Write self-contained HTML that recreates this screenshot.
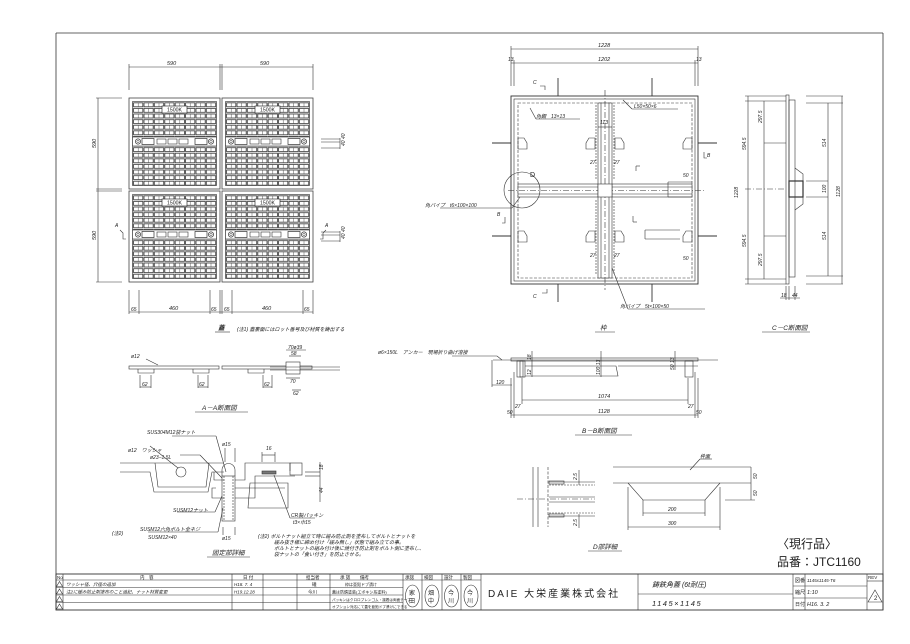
<!DOCTYPE html>
<html><head><meta charset="utf-8"><style>
html,body{margin:0;padding:0;background:#fff;}
svg{display:block;}
text{font-family:"Liberation Sans","Noto Sans CJK JP",sans-serif;fill:#222;}
.d{font-size:5.5px;font-style:italic;}
.s{font-size:5px;font-style:italic;}
.c{font-size:6.5px;font-style:italic;}
</style></head><body>
<svg width="910" height="644" viewBox="0 0 910 644" xmlns="http://www.w3.org/2000/svg">
<defs>
<pattern id="gr" x="4" y="4" width="10.4" height="5.6" patternUnits="userSpaceOnUse">
<rect x="0.6" y="0.8" width="9.2" height="4" fill="#fff" stroke="#333" stroke-width="0.8"/>
<line x1="5.2" y1="0.8" x2="5.2" y2="4.8" stroke="#555" stroke-width="0.5"/>
</pattern>
<g id="panel">
<rect x="0" y="0" width="91" height="91" fill="#fff" stroke="#444" stroke-width="0.8"/>
<rect x="3.5" y="3.5" width="84" height="84" fill="url(#gr)" stroke="#333" stroke-width="0.6"/>
<rect x="3.5" y="39" width="84" height="9" fill="#fff" stroke="#333" stroke-width="0.6"/>
<circle cx="9" cy="43.5" r="2.6" fill="#fff" stroke="#333" stroke-width="0.7"/>
<circle cx="9" cy="43.5" r="1.2" fill="none" stroke="#333" stroke-width="0.5"/>
<circle cx="82" cy="43.5" r="2.6" fill="#fff" stroke="#333" stroke-width="0.7"/>
<circle cx="82" cy="43.5" r="1.2" fill="none" stroke="#333" stroke-width="0.5"/>
<rect x="13" y="40.5" width="12" height="6" fill="#fff" stroke="#333" stroke-width="0.7"/>
<rect x="66" y="40.5" width="12" height="6" fill="#fff" stroke="#333" stroke-width="0.7"/>
<rect x="28" y="41" width="9" height="5" fill="#fff" stroke="#333" stroke-width="0.6"/>
<rect x="39" y="41" width="9" height="5" fill="#fff" stroke="#333" stroke-width="0.6"/>
<rect x="50" y="41" width="9" height="5" fill="#fff" stroke="#333" stroke-width="0.6"/>
<rect x="33" y="8" width="25" height="7" fill="#fff" stroke="#333" stroke-width="0.7"/>
<text x="45.5" y="13.6" font-size="5.2" text-anchor="middle">1500K</text>
</g>
</defs>

<!-- border -->
<g fill="none" stroke="#333" stroke-width="0.8">
<line x1="56" y1="33" x2="883" y2="33"/>
<line x1="56" y1="33" x2="56" y2="610"/>
<line x1="883" y1="33" x2="883" y2="610"/>
</g>

<!-- ===== grating plan ===== -->
<use href="#panel" x="129" y="98"/>
<use href="#panel" x="222" y="98"/>
<use href="#panel" x="129" y="191"/>
<use href="#panel" x="222" y="191"/>
<g stroke="#333" stroke-width="0.6" fill="none">
<line x1="129" y1="67" x2="313" y2="67"/>
<line x1="129" y1="64" x2="129" y2="90"/><line x1="220" y1="64" x2="220" y2="90"/><line x1="222" y1="64" x2="222" y2="90"/><line x1="313" y1="64" x2="313" y2="90"/>
<line x1="98" y1="98" x2="98" y2="282"/>
<line x1="96" y1="98" x2="122" y2="98"/><line x1="96" y1="189" x2="122" y2="189"/><line x1="96" y1="191" x2="122" y2="191"/><line x1="96" y1="282" x2="122" y2="282"/>
<line x1="129" y1="312" x2="313" y2="312"/>
<line x1="129" y1="290" x2="129" y2="314"/><line x1="139" y1="290" x2="139" y2="314"/><line x1="210" y1="290" x2="210" y2="314"/><line x1="220" y1="290" x2="220" y2="314"/>
<line x1="222" y1="290" x2="222" y2="314"/><line x1="232" y1="290" x2="232" y2="314"/><line x1="303" y1="290" x2="303" y2="314"/><line x1="313" y1="290" x2="313" y2="314"/>
<line x1="321" y1="139" x2="340" y2="139"/><line x1="321" y1="142" x2="340" y2="142"/><line x1="321" y1="148" x2="340" y2="148"/>
<line x1="340" y1="138" x2="340" y2="149"/>
<line x1="321" y1="232" x2="340" y2="232"/><line x1="321" y1="235" x2="340" y2="235"/><line x1="321" y1="241" x2="340" y2="241"/>
<line x1="340" y1="231" x2="340" y2="242"/>
<path d="M120 230 l3 3 v6 h3"/><path d="M326 230 l-3 3 v6 h-3"/>
</g>
<text class="d" x="167" y="65">590</text><text class="d" x="260" y="65">590</text>
<text class="d" x="96" y="148" transform="rotate(-90 96 148)">590</text>
<text class="d" x="96" y="240" transform="rotate(-90 96 240)">590</text>
<text class="s" x="131" y="311">65</text><text class="d" x="169" y="310">460</text><text class="s" x="211" y="311">65</text>
<text class="s" x="224" y="311">65</text><text class="d" x="262" y="310">460</text><text class="s" x="304" y="311">65</text>
<text class="s" x="115" y="227">A</text><text class="s" x="325" y="227">A</text>
<text class="s" x="345" y="146" transform="rotate(-90 345 146)">40 40</text>
<text class="s" x="345" y="239" transform="rotate(-90 345 239)">40 40</text>
<text class="c" x="218" y="330" font-weight="bold">蓋</text>
<line x1="215" y1="332" x2="230" y2="332" stroke="#333" stroke-width="0.6"/>
<text class="s" x="237" y="331">(注1) 蓋裏面にはロット番号及び材質を鋳出する</text>

<!-- ===== frame plan ===== -->
<g stroke="#333" stroke-width="0.6" fill="none">
<line x1="511" y1="49" x2="698" y2="49"/><line x1="511" y1="63" x2="698" y2="63"/>
<line x1="511" y1="46" x2="511" y2="86"/><line x1="514" y1="60" x2="514" y2="86"/><line x1="695" y1="60" x2="695" y2="86"/><line x1="698" y1="46" x2="698" y2="86"/>
<rect x="511" y="96" width="187" height="188" stroke-width="0.9"/>
<rect x="514" y="99" width="181" height="182"/>
<rect x="518" y="103" width="174" height="175" stroke-dasharray="3 1.5"/>
<line x1="558" y1="78" x2="558" y2="96" stroke-width="0.9"/><line x1="652" y1="78" x2="652" y2="96" stroke-width="0.9"/>
<line x1="558" y1="284" x2="558" y2="302" stroke-width="0.9"/><line x1="652" y1="284" x2="652" y2="302" stroke-width="0.9"/>
<line x1="492" y1="143" x2="511" y2="143" stroke-width="0.9"/><line x1="492" y1="236" x2="511" y2="236" stroke-width="0.9"/>
<line x1="698" y1="143" x2="717" y2="143" stroke-width="0.9"/><line x1="698" y1="236" x2="717" y2="236" stroke-width="0.9"/>
<rect x="518" y="184" width="174" height="13" fill="#fff"/>
<line x1="518" y1="187" x2="692" y2="187"/><line x1="518" y1="194" x2="692" y2="194"/>
<line x1="508" y1="190.5" x2="705" y2="190.5" stroke-dasharray="6 2 1 2"/>
<rect x="598" y="103" width="14" height="175" fill="#fff"/>
<line x1="601" y1="103" x2="601" y2="278"/><line x1="609" y1="103" x2="609" y2="278"/>
<line x1="605" y1="90" x2="605" y2="290" stroke-dasharray="6 2 1 2"/>
<rect x="598" y="184" width="14" height="13" fill="#fff"/>
<line x1="596" y1="105" x2="596" y2="180" stroke-dasharray="2 1"/><line x1="614" y1="105" x2="614" y2="180" stroke-dasharray="2 1"/>
<line x1="596" y1="200" x2="596" y2="275" stroke-dasharray="2 1"/><line x1="614" y1="200" x2="614" y2="275" stroke-dasharray="2 1"/>
<circle cx="522" cy="190" r="18"/>
<path d="M518 138 h6 l3 5 v6 h-9 z"/><path d="M595 138 h-6 l-3 5 v6 h9 z"/><path d="M615 138 h6 l3 5 v6 h-9 z"/><path d="M692 138 h-6 l-3 5 v6 h9 z"/>
<path d="M518 231 h6 l3 5 v6 h-9 z"/><path d="M595 231 h-6 l-3 5 v6 h9 z"/><path d="M615 231 h6 l3 5 v6 h-9 z"/><path d="M692 231 h-6 l-3 5 v6 h9 z"/>
<line x1="530" y1="108" x2="536" y2="119"/><line x1="536" y1="119" x2="580" y2="119"/>
<line x1="623" y1="100" x2="632" y2="109"/><line x1="632" y1="109" x2="678" y2="109"/>
<line x1="612" y1="268" x2="628" y2="309"/><line x1="628" y1="309" x2="705" y2="309"/>
<line x1="440" y1="208" x2="512" y2="208"/><line x1="512" y1="208" x2="520" y2="197"/>
<line x1="598" y1="127" x2="612" y2="127"/>
<line x1="668" y1="182" x2="692" y2="182"/><line x1="668" y1="197" x2="692" y2="197"/><line x1="668" y1="182" x2="668" y2="197"/>
<line x1="645" y1="230" x2="680" y2="230"/><line x1="645" y1="239" x2="680" y2="239"/><line x1="645" y1="230" x2="645" y2="239"/>
<path d="M540 86 l5 0 l0 4"/><path d="M542 293 l5 0 l0 -4"/><path d="M707 158 l-3 0 v-6"/><path d="M502 223 l3 0 v-6"/>
<line x1="636" y1="166" x2="636" y2="171"/><line x1="636" y1="166" x2="640" y2="166"/>
<line x1="633" y1="222" x2="633" y2="216"/><line x1="633" y1="222" x2="637" y2="222"/>
</g>
<text class="d" x="598" y="47">1228</text><text class="d" x="598" y="61">1202</text>
<text class="s" x="508" y="61">13</text><text class="s" x="696" y="61">13</text>
<text class="s" x="533" y="84">C</text><text class="s" x="533" y="298">C</text>
<text class="s" x="707" y="157">B</text><text class="s" x="497" y="216">B</text>
<text x="530" y="177" font-size="7">D</text>
<text class="s" x="536" y="118">角鋼　13×13</text>
<text class="s" x="634" y="108">L50×50×6</text>
<text class="s" x="620" y="308">角パイプ　5t×100×50</text>
<text class="s" x="425" y="207">角パイプ　t6×100×100</text>
<text class="s" x="600" y="124">113</text>
<text class="s" x="590" y="164">27</text><text class="s" x="614" y="164">27</text>
<text class="s" x="590" y="257">27</text><text class="s" x="614" y="257">27</text>
<text class="s" x="683" y="177">50</text><text class="s" x="683" y="260">50</text>
<text class="c" x="600" y="330">枠</text>
<line x1="595" y1="332" x2="615" y2="332" stroke="#333" stroke-width="0.6"/>

<!-- ===== C-C section ===== -->
<g stroke="#333" stroke-width="0.6" fill="none">
<line x1="748" y1="96" x2="748" y2="284"/><line x1="764" y1="101" x2="764" y2="279"/>
<line x1="745" y1="96" x2="786" y2="96"/><line x1="745" y1="101" x2="786" y2="101"/>
<line x1="764" y1="143" x2="786" y2="143"/><line x1="745" y1="189" x2="786" y2="189" stroke-dasharray="6 2 1 2"/>
<line x1="764" y1="236" x2="786" y2="236"/><line x1="745" y1="279" x2="786" y2="279"/><line x1="745" y1="284" x2="786" y2="284"/>
<rect x="786" y="95" width="3" height="189"/>
<rect x="789" y="100" width="6" height="177"/>
<path d="M795 168 l8 6 v30 l-8 6"/>
<rect x="789" y="181" width="14" height="16" stroke-width="1.2"/>
<line x1="806" y1="96" x2="843" y2="96"/><line x1="806" y1="103" x2="843" y2="103"/>
<line x1="806" y1="276" x2="843" y2="276"/><line x1="806" y1="284" x2="843" y2="284"/>
<line x1="806" y1="181" x2="828" y2="181"/><line x1="806" y1="197" x2="828" y2="197"/>
<line x1="828" y1="103" x2="828" y2="276"/><line x1="842" y1="96" x2="842" y2="284"/>
<line x1="786" y1="286" x2="786" y2="300"/><line x1="789" y1="286" x2="789" y2="300"/><line x1="795" y1="286" x2="795" y2="300"/>
<line x1="780" y1="298" x2="800" y2="298"/>
</g>
<g class="s">
<text x="746" y="150" transform="rotate(-90 746 150)">594.5</text>
<text x="746" y="247" transform="rotate(-90 746 247)">594.5</text>
<text x="762" y="123" transform="rotate(-90 762 123)">297.5</text>
<text x="762" y="266" transform="rotate(-90 762 266)">297.5</text>
<text x="826" y="147" transform="rotate(-90 826 147)">514</text>
<text x="826" y="240" transform="rotate(-90 826 240)">514</text>
<text x="826" y="193" transform="rotate(-90 826 193)">100</text>
<text x="840" y="197" transform="rotate(-90 840 197)">1128</text>
<text x="738" y="198" transform="rotate(-90 738 198)">1228</text>
<text x="781" y="297">18</text><text x="792" y="297">44</text>
</g>
<text class="c" x="772" y="330">C－C断面図</text>
<line x1="762" y1="332" x2="810" y2="332" stroke="#333" stroke-width="0.6"/>

<!-- ===== A-A section ===== -->
<g stroke="#333" stroke-width="0.6" fill="none">
<rect x="129" y="366" width="90" height="3"/><rect x="222" y="366" width="90" height="3"/>
<path d="M138 369 v4 h16 v-4"/><path d="M193 369 v4 h16 v-4"/><path d="M248 369 v4 h16 v-4"/>
<rect x="286" y="362" width="14" height="12" fill="#fff"/>
<line x1="270" y1="367" x2="340" y2="367"/><line x1="270" y1="370" x2="340" y2="370"/>
<line x1="140" y1="375" x2="140" y2="388"/><line x1="151" y1="375" x2="151" y2="388"/><line x1="140" y1="387" x2="151" y2="387"/>
<line x1="198" y1="375" x2="198" y2="388"/><line x1="208" y1="375" x2="208" y2="388"/><line x1="198" y1="387" x2="208" y2="387"/>
<line x1="263" y1="375" x2="263" y2="388"/><line x1="272" y1="375" x2="272" y2="388"/><line x1="263" y1="387" x2="272" y2="387"/>
<line x1="286" y1="350" x2="306" y2="350"/><line x1="289" y1="356" x2="301" y2="356"/>
<line x1="286" y1="378" x2="300" y2="378"/><line x1="292" y1="390" x2="301" y2="390"/>
<line x1="146" y1="359" x2="158" y2="365"/>
</g>
<text class="s" x="131" y="358">ø12</text>
<text class="s" x="142" y="386">62</text><text class="s" x="199" y="386">62</text><text class="s" x="264" y="386">62</text>
<text class="s" x="288" y="349">70ø39</text><text class="s" x="291" y="355">58</text><text class="s" x="290" y="383">70</text><text class="s" x="293" y="395">62</text>
<text class="c" x="202" y="410">A－A断面図</text>
<line x1="195" y1="412" x2="248" y2="412" stroke="#333" stroke-width="0.6"/>

<!-- ===== fixing detail ===== -->
<g stroke="#333" stroke-width="0.6" fill="none">
<path d="M120 463 h100 l4 0"/><path d="M120 472 h30 l4 20 h54 l4 -20 h12"/>
<path d="M155 463 l3 24 h48 l3 -24"/>
<circle cx="181" cy="472" r="5"/>
<path d="M214 472 v8 h10"/>
<path d="M216 488 h-4 v10 h12"/>
<rect x="222" y="476" width="13" height="45"/>
<path d="M222 476 v-6 a6.5 6.5 0 0 1 13 0 v6"/>
<line x1="224" y1="476" x2="224" y2="521" stroke-dasharray="2 1"/><line x1="233" y1="476" x2="233" y2="521" stroke-dasharray="2 1"/>
<path d="M235 480 h10 v-17 h45 v8"/>
<path d="M235 488 h20 v-12 h40"/>
<path d="M235 498 h20 v-10 h30"/>
<path d="M250 483 h38 v25 h-40 z"/>
<rect x="262" y="471" width="14" height="3" fill="#777"/>
<rect x="290" y="463" width="12" height="12"/>
<line x1="305" y1="472" x2="320" y2="472"/><line x1="305" y1="476" x2="320" y2="476"/>
<line x1="320" y1="462" x2="320" y2="502"/>
<line x1="225" y1="448" x2="225" y2="462"/><line x1="235" y1="448" x2="235" y2="462"/>
<line x1="223" y1="527" x2="223" y2="535"/><line x1="235" y1="527" x2="235" y2="535"/>
<line x1="262" y1="452" x2="262" y2="462"/><line x1="275" y1="452" x2="275" y2="462"/><line x1="262" y1="455" x2="275" y2="455"/>
<line x1="172" y1="436" x2="216" y2="436"/><line x1="216" y1="436" x2="226" y2="472"/>
<line x1="180" y1="455" x2="200" y2="455"/><line x1="200" y1="455" x2="222" y2="478"/>
<line x1="150" y1="446" x2="178" y2="468"/>
<line x1="177" y1="512" x2="215" y2="512"/><line x1="215" y1="512" x2="222" y2="496"/>
<line x1="148" y1="532" x2="218" y2="532"/><line x1="218" y1="532" x2="223" y2="508"/>
<line x1="274" y1="475" x2="290" y2="518"/><line x1="290" y1="518" x2="315" y2="518"/>
</g>
<text class="s" x="147" y="434">SUS304M12袋ナット</text>
<text class="s" x="128" y="452">ø12　ワッシャ</text><text class="s" x="150" y="459">ø23−1.5L</text>
<text class="s" x="222" y="446">ø15</text><text class="s" x="222" y="540">ø15</text>
<text class="s" x="266" y="450">16</text>
<text class="s" x="173" y="512">SUSM12ナット</text>
<text class="s" x="112" y="535">(注2)</text><text class="s" x="140" y="531">SUSM12六角ボルト全ネジ</text><text class="s" x="148" y="539">SUSM12×40</text>
<text class="s" x="291" y="517">CR製パッキン</text><text class="s" x="293" y="524">t3×巾15</text>
<text class="s" x="323" y="470" transform="rotate(-90 323 470)">18</text>
<text class="s" x="323" y="493" transform="rotate(-90 323 493)">44</text>
<text class="s" x="258" y="538">(注2) ボルトナット組立て時に緩み防止剤を塗布してボルトとナットを</text>
<text class="s" x="274" y="544">緩み抜き様に締め付け「緩み無し」状態で組み立ての事。</text>
<text class="s" x="274" y="550">ボルトとナットの組み付け後に焼付き防止剤をボルト側に塗布し、</text>
<text class="s" x="274" y="556">袋ナットの「食い付き」を防止させる。</text>
<text class="c" x="212" y="555">固定部詳細</text>
<line x1="207" y1="557" x2="250" y2="557" stroke="#333" stroke-width="0.6"/>

<!-- ===== B-B section ===== -->
<text class="s" x="378" y="354">ø6×150L　アンカー　現場折り曲げ溶接</text>
<g stroke="#333" stroke-width="0.6" fill="none">
<line x1="452" y1="356" x2="497" y2="356"/><line x1="497" y1="356" x2="502" y2="360"/>
<line x1="493" y1="360" x2="718" y2="360"/>
<rect x="511" y="358" width="187" height="3"/>
<rect x="517" y="361" width="8" height="16"/><rect x="520" y="361" width="3" height="16"/>
<rect x="685" y="361" width="8" height="16"/>
<path d="M525 366 h91 l2 10 h-93"/><line x1="618" y1="366" x2="698" y2="366"/>
<line x1="492" y1="385" x2="512" y2="385"/><line x1="492" y1="360" x2="492" y2="387"/>
<line x1="514" y1="372" x2="514" y2="418"/><line x1="522" y1="378" x2="522" y2="404"/>
<line x1="688" y1="378" x2="688" y2="404"/><line x1="695" y1="372" x2="695" y2="418"/>
<line x1="511" y1="378" x2="511" y2="418"/><line x1="698" y1="378" x2="698" y2="418"/>
<line x1="522" y1="400" x2="688" y2="400"/><line x1="511" y1="415" x2="698" y2="415"/>
<line x1="532" y1="351" x2="532" y2="377"/><line x1="601" y1="351" x2="601" y2="377"/><line x1="675" y1="351" x2="675" y2="370"/>
</g>
<text class="s" x="496" y="384">120</text>
<text class="d" x="598" y="398">1074</text><text class="d" x="598" y="413">1128</text>
<text class="s" x="515" y="408">27</text><text class="s" x="688" y="408">27</text>
<text class="s" x="507" y="414">50</text><text class="s" x="696" y="414">50</text>
<text class="s" x="531" y="360" transform="rotate(-90 531 360)">18</text>
<text class="s" x="531" y="375" transform="rotate(-90 531 375)">12</text>
<text class="s" x="600" y="375" transform="rotate(-90 600 375)">100 13</text>
<text class="s" x="674" y="370" transform="rotate(-90 674 370)">50 13</text>
<text class="c" x="582" y="433">B－B断面図</text>
<line x1="575" y1="435" x2="632" y2="435" stroke="#333" stroke-width="0.6"/>

<!-- ===== D detail ===== -->
<g stroke="#333" stroke-width="0.6" fill="none">
<line x1="533" y1="467" x2="533" y2="527"/><line x1="538" y1="467" x2="538" y2="527"/>
<line x1="548" y1="467" x2="548" y2="527" stroke-dasharray="3 1.5"/>
<line x1="517" y1="499" x2="595" y2="499" stroke-dasharray="6 2 1 2"/>
<line x1="549" y1="482" x2="595" y2="482"/><line x1="549" y1="485" x2="595" y2="485" stroke-dasharray="2 1"/>
<line x1="549" y1="513" x2="595" y2="513" stroke-dasharray="2 1"/><line x1="549" y1="516" x2="595" y2="516"/>
<rect x="549" y="481" width="15" height="3"/><rect x="549" y="514" width="15" height="3"/>
<line x1="549" y1="497" x2="595" y2="497"/><line x1="549" y1="502" x2="595" y2="502"/>
<line x1="579" y1="470" x2="579" y2="485"/><line x1="579" y1="514" x2="579" y2="528"/>
<line x1="613" y1="467" x2="751" y2="467"/><line x1="613" y1="483" x2="751" y2="483"/>
<path d="M628 483 l15 17 h62 l15 -17"/>
<line x1="643" y1="500" x2="643" y2="516"/><line x1="705" y1="500" x2="705" y2="516"/><line x1="643" y1="513" x2="705" y2="513"/>
<line x1="628" y1="487" x2="628" y2="530"/><line x1="720" y1="487" x2="720" y2="530"/><line x1="628" y1="527" x2="720" y2="527"/>
<line x1="751" y1="467" x2="751" y2="500"/><line x1="725" y1="500" x2="755" y2="500"/>
<line x1="700" y1="459" x2="712" y2="459"/><line x1="700" y1="459" x2="690" y2="470"/>
</g>
<text class="s" x="577" y="480" transform="rotate(-90 577 480)">2.5</text>
<text class="s" x="577" y="526" transform="rotate(-90 577 526)">2.5</text>
<text class="s" x="700" y="458">枠面</text>
<text class="s" x="668" y="511">200</text><text class="s" x="668" y="525">300</text>
<text class="s" x="757" y="479" transform="rotate(-90 757 479)">50</text>
<text class="s" x="757" y="496" transform="rotate(-90 757 496)">50</text>
<text class="c" x="593" y="549">D部詳細</text>
<line x1="588" y1="551" x2="622" y2="551" stroke="#333" stroke-width="0.6"/>

<text x="777" y="548" font-size="12">〈現行品〉</text>
<text x="777" y="566" font-size="12">品番：JTC1160</text>

<!-- ===== title block ===== -->
<g stroke="#333" stroke-width="0.6" fill="none">
<rect x="56" y="574" width="827" height="36" stroke-width="0.9"/>
<line x1="56" y1="580" x2="403" y2="580"/><line x1="56" y1="587.5" x2="403" y2="587.5"/><line x1="56" y1="595" x2="403" y2="595"/><line x1="56" y1="602.5" x2="403" y2="602.5"/>
<line x1="403" y1="580" x2="481" y2="580"/>
<line x1="63" y1="574" x2="63" y2="610"/><line x1="232" y1="574" x2="232" y2="610"/><line x1="263" y1="574" x2="263" y2="610"/>
<line x1="297" y1="574" x2="297" y2="610"/><line x1="330" y1="574" x2="330" y2="610"/><line x1="403" y1="574" x2="403" y2="610"/>
<line x1="422" y1="574" x2="422" y2="610"/><line x1="442" y1="574" x2="442" y2="610"/><line x1="461" y1="574" x2="461" y2="610"/><line x1="481" y1="574" x2="481" y2="610"/>
<line x1="638" y1="574" x2="638" y2="610"/><line x1="638" y1="594" x2="793" y2="594"/>
<line x1="793" y1="574" x2="793" y2="610"/><line x1="805" y1="574" x2="805" y2="610"/><line x1="867" y1="574" x2="867" y2="610"/>
<line x1="793" y1="586" x2="867" y2="586"/><line x1="793" y1="598" x2="867" y2="598"/><line x1="867" y1="581" x2="883" y2="581"/>
<ellipse cx="412.5" cy="596" rx="7" ry="11"/><ellipse cx="432" cy="596" rx="7" ry="11"/><ellipse cx="451.5" cy="596" rx="7" ry="11"/><ellipse cx="471" cy="596" rx="7" ry="11"/>
<path d="M59.5 581.5 l3 5 h-6 z"/><path d="M59.5 589 l3 5 h-6 z"/><path d="M59.5 596.5 l3 5 h-6 z"/><path d="M59.5 604 l3 5 h-6 z"/>
<path d="M875 590 l7 12 h-14 z"/>
</g>
<g font-size="4.5">
<text x="57" y="579">No</text><text x="140" y="579">内　容</text><text x="243" y="579">日 付</text><text x="306" y="579">担当者</text><text x="340" y="579">承 認</text><text x="360" y="579">備考</text>
<text x="405" y="579">承認</text><text x="424" y="579">検図</text><text x="444" y="579">設計</text><text x="463" y="579">製図</text>
<text x="66" y="586" font-style="italic">ワッシャ径、穴径の追加</text>
<text x="66" y="593.5" font-style="italic">注2に緩み防止剤塗布のこと追記、ナット材質変更</text>
<text x="234" y="586" font-style="italic">H18. 7. 4</text><text x="234" y="593.5" font-style="italic">H19.12.28</text>
<text x="312" y="586">礒</text><text x="308" y="593.5">今川</text>
<text x="345" y="586" font-size="4">枠は亜鉛ドブ漬け</text>
<text x="332" y="593.5" font-size="4">蓋は防錆塗装(エポキシ系塗料)</text>
<text x="332" y="601" font-size="3.6">パッキンはクロロプレンゴム・接着は両面テープ</text>
<text x="332" y="608" font-size="3.6">オプション対応にて蓋を亜鉛ドブ漬けにできる</text>
<text x="409" y="595" font-size="6">家</text><text x="409" y="603" font-size="6">田</text>
<text x="428" y="595" font-size="6">畑</text><text x="428" y="603" font-size="6">中</text>
<text x="448" y="595" font-size="6">今</text><text x="448" y="603" font-size="6">川</text>
<text x="467" y="595" font-size="6">今</text><text x="467" y="603" font-size="6">川</text>
<text x="868" y="579" font-size="4.5">REV</text>
<text x="874" y="600" font-size="6">2</text>
<text x="795" y="582" font-size="5">図番</text><text x="795" y="594" font-size="5">縮尺</text><text x="795" y="606" font-size="5">日付</text>
<text x="807" y="582" font-size="4.5" font-style="italic">1145x1145-T6</text>
<text x="807" y="594" font-size="5.5" font-style="italic">1:10</text>
<text x="807" y="606" font-size="5.5" font-style="italic">H16. 3. 2</text>
</g>
<text x="488" y="597" font-size="10" letter-spacing="2">DAIE 大栄産業株式会社</text>
<text x="652" y="587" font-size="7" font-style="italic">鋳鉄角蓋 (6t耐圧)</text>
<text x="652" y="606" font-size="7.5" font-style="italic" letter-spacing="1.5">1145×1145</text>
</svg>
</body></html>
